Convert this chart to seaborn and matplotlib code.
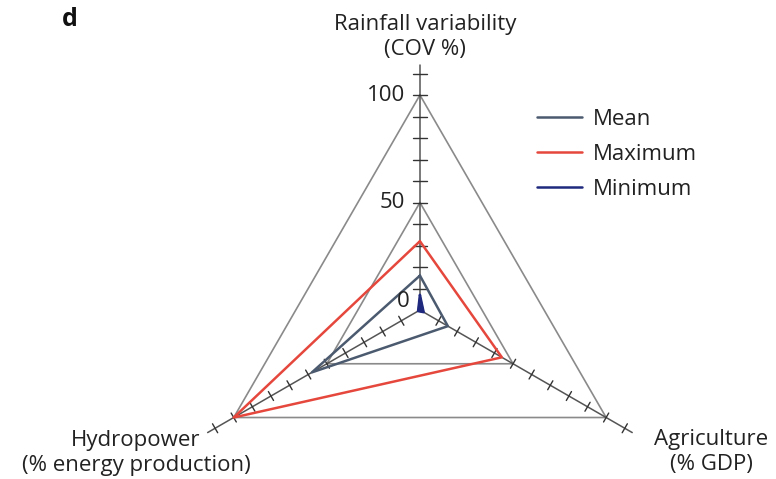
import numpy as np
import pandas as pd
import matplotlib
matplotlib.use("Agg")
import matplotlib.pyplot as plt
import seaborn as sns

# Axes of the triangular radar chart (clockwise from top)
axis_names = ["Rainfall variability\n(COV %)", "Agriculture\n(% GDP)",
              "Hydropower\n(% energy production)"]
axis_angles_deg = [90, -30, 210]

# Series values per axis: rainfall, agriculture, hydropower
series_names = ["Mean", "Maximum", "Minimum"]
mean_vals = [16, 15, 58]
max_vals = [32, 44, 100]
min_vals = [7, 2, 1]
series_colors = ["#4b5a6f", "#e5473d", "#1f2a7e"]

grid_levels = [50, 100]
grid_labels = ["0", "50", "100"]
tick_values = list(range(10, 111, 10))
axis_extent = 114

sns.set_theme(style="white")
plt.rcParams["font.family"] = ["Open Sans", "DejaVu Sans"]

ang = np.deg2rad(axis_angles_deg)
ux, uy = np.cos(ang), np.sin(ang)


def polygon(vals):
    v = np.asarray(vals, dtype=float)
    x = np.append(v * ux, v[0] * ux[0])
    y = np.append(v * uy, v[0] * uy[0])
    return x, y


fig = plt.figure(figsize=(7.76, 4.79), dpi=100)
ax = fig.add_axes([0, 0, 1, 1])

# grid triangles
for lvl in grid_levels:
    gx, gy = polygon([lvl] * 3)
    ax.plot(gx, gy, color="#8a8a8a", lw=1.2, zorder=1)

# axis spokes with crossing tick marks
for i in range(3):
    ax.plot([0, axis_extent * ux[i]], [0, axis_extent * uy[i]],
            color="#555555", lw=1.1, zorder=2)
    px, py = -uy[i], ux[i]
    half = 3.3 if i == 0 else 2.4
    for t in tick_values:
        cx, cy = t * ux[i], t * uy[i]
        ax.plot([cx - half * px, cx + half * px], [cy - half * py, cy + half * py],
                color="#333333", lw=1.0, zorder=2)

# data series
rows = []
for name, vals in zip(series_names, [mean_vals, max_vals, min_vals]):
    x, y = polygon(vals)
    for k, (xx, yy) in enumerate(zip(x, y)):
        rows.append({"series": name, "order": k, "x": xx, "y": yy})
df = pd.DataFrame(rows)

sns.lineplot(data=df, x="x", y="y", hue="series", units="series", estimator=None,
             sort=False, palette=dict(zip(series_names, series_colors)),
             hue_order=series_names, lw=1.8, ax=ax, zorder=3)
mx, my = polygon(min_vals)
ax.fill(mx, my, color=series_colors[2], zorder=3)
ax.set_xlim(-195.3, 165.6)
ax.set_ylim(-78.6, 144.2)
ax.axis("off")

text_color = "#222222"
# radial value labels
for lbl, val in zip(grid_labels, [0, 50, 100]):
    off = 5.0 if val == 0 else 7.0
    ax.text(-off, val + (4.0 if val == 0 else 0), lbl, ha="right", va="center",
            fontsize=16, color=text_color)

# axis titles
title_kw = dict(ha="center", va="center", fontsize=16, color=text_color,
                linespacing=1.25)
ax.text(2.3, 127, axis_names[0], **title_kw)
ax.text(135.5, -66, axis_names[1], **title_kw)
ax.text(-132, -66.5, axis_names[2], **title_kw)

ax.text(-163, 135, "d", ha="center", va="center", fontsize=18,
        fontweight="bold", color="#111111")

leg = ax.legend(loc="upper left", bbox_to_anchor=(526 / 776, 1 - 98 / 479),
                frameon=False, fontsize=16, handlelength=2.0, handletextpad=0.5,
                labelspacing=0.62, borderpad=0)
for t in leg.get_texts():
    t.set_color(text_color)

fig.savefig("out.png", dpi=100)
